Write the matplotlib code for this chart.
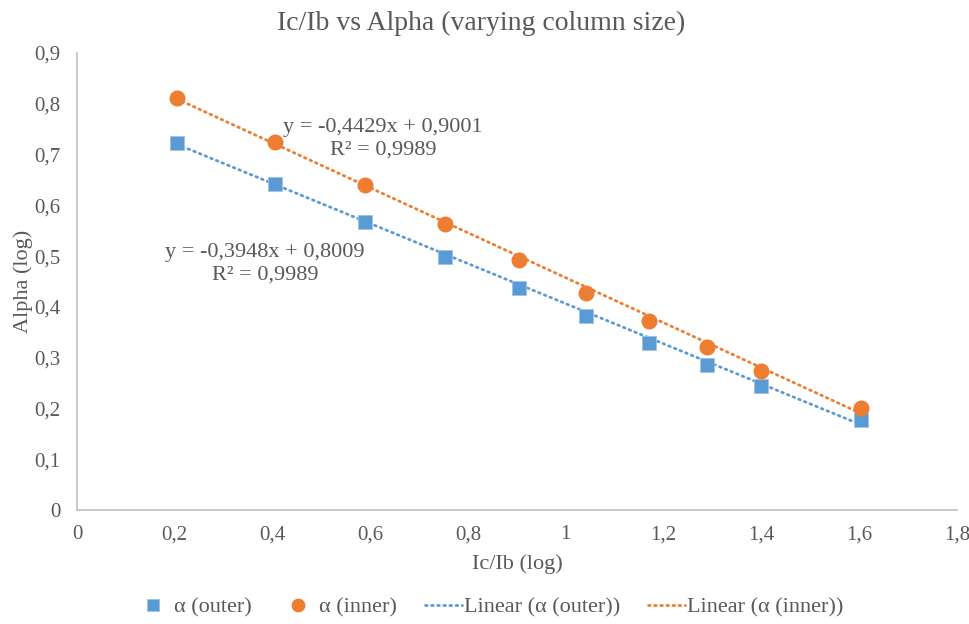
import numpy as np
import matplotlib
matplotlib.use("Agg")
import matplotlib.pyplot as plt
from matplotlib.ticker import FuncFormatter

# valores
ic_ib = [0.204, 0.406, 0.589, 0.753, 0.904, 1.042, 1.170, 1.289, 1.400, 1.604]
alpha_outer = [0.723, 0.642, 0.567, 0.499, 0.437, 0.381, 0.329, 0.285, 0.244, 0.177]
alpha_inner = [0.811, 0.724, 0.640, 0.563, 0.493, 0.427, 0.372, 0.321, 0.274, 0.200]

# rectas de tendencia (Excel)
fit_outer = (-0.3948, 0.8009)
fit_inner = (-0.4429, 0.9001)
eq_outer = "y = -0,3948x + 0,8009\nR² = 0,9989"
eq_inner = "y = -0,4429x + 0,9001\nR² = 0,9989"

azul = "#5B9BD5"
naranja = "#ED7D31"
gris = "#595959"

plt.rcParams['font.family'] = ['Liberation Serif', 'DejaVu Serif']

fig = plt.figure(figsize=(9.69, 6.24), dpi=100)
ax = fig.add_axes([0.0795, 0.183, 0.908, 0.732])

xs = np.array([min(ic_ib), max(ic_ib)])
ax.plot(ic_ib, alpha_outer, 's', color=azul, markersize=10, markeredgecolor='#9DC3E6',
        markeredgewidth=0.6, label='α (outer)', zorder=3)
ax.plot(ic_ib, alpha_inner, 'o', color=naranja, markersize=10.5, markeredgecolor=naranja,
        label='α (inner)', zorder=3)
ax.plot(xs, fit_outer[0] * xs + fit_outer[1], color=azul, lw=2, linestyle=(0, (0.6, 1.6)),
        dash_capstyle='round', label='Linear (α (outer))', zorder=2)
ax.plot(xs, fit_inner[0] * xs + fit_inner[1], color=naranja, lw=2, linestyle=(0, (0.6, 1.6)),
        dash_capstyle='round', label='Linear (α (inner))', zorder=2)

ax.text(0.626, 0.731, eq_inner, ha='center', va='center', multialignment='center',
        fontsize=16, color=gris, linespacing=1.25)
ax.text(0.385, 0.485, eq_outer, ha='center', va='center', multialignment='center',
        fontsize=16, color=gris, linespacing=1.25)

ax.set_xlim(0, 1.8)
ax.set_ylim(0, 0.9)
ax.set_xticks(np.arange(0, 1.81, 0.2))
ax.set_yticks(np.arange(0, 0.91, 0.1))
fmt = FuncFormatter(lambda v, p: f"{round(v, 1):g}".replace('.', ','))
ax.xaxis.set_major_formatter(fmt)
ax.yaxis.set_major_formatter(fmt)
ax.tick_params(axis='x', length=0, labelsize=15, labelcolor=gris, pad=11)
ax.tick_params(axis='y', length=0, labelsize=15, labelcolor=gris, pad=12)

for s in ['top', 'right']:
    ax.spines[s].set_visible(False)
for s in ['left', 'bottom']:
    ax.spines[s].set_color('#BFBFBF')
    ax.spines[s].set_linewidth(1.2)

fig.text(0.497, 0.962, "Ic/Ib vs Alpha (varying column size)", fontsize=20, color=gris,
         ha='center', va='center')
ax.set_xlabel("Ic/Ib (log)", fontsize=16, color=gris, labelpad=7)
ax.set_ylabel("Alpha (log)", fontsize=16, color=gris)
ax.yaxis.set_label_coords(-0.05, 0.5)

leg = fig.legend(loc='center', ncol=4, frameon=False, fontsize=16,
                 bbox_to_anchor=(0.505, 0.027), handlelength=1.67, columnspacing=1.25,
                 handletextpad=0.1, markerscale=0.85)
for t in leg.get_texts():
    t.set_color(gris)

fig.savefig("out.png", dpi=100)
